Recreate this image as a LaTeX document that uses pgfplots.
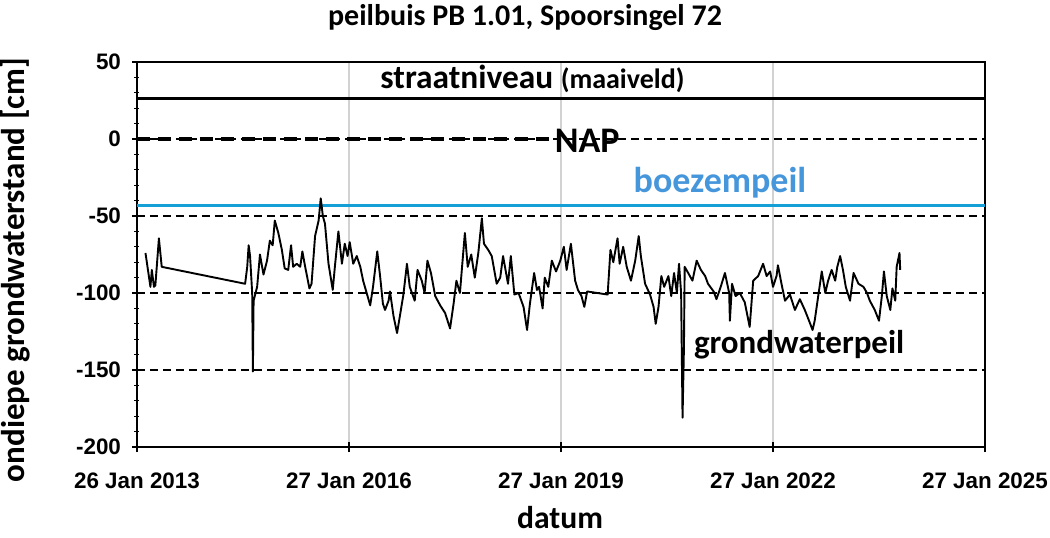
\documentclass[border=0pt]{standalone}
\usepackage{fontspec}
\usepackage{pgfplots}
\pgfplotsset{compat=1.18}
\setmainfont{Carlito}
\newfontfamily\tickfont{Liberation Sans}
\definecolor{boezem}{RGB}{20,160,215}
\definecolor{boezemtxt}{RGB}{70,150,220}
\definecolor{gridgray}{RGB}{210,210,210}

\begin{document}
\begin{tikzpicture}
\path[use as bounding box] (-68.5pt,-45pt) rectangle (456.5pt,223.5pt);
\begin{axis}[
  at={(0,0)}, anchor=south west,
  scale only axis, width=424pt, height=192.5pt,
  xmin=2013.07, xmax=2025.07, ymin=-200, ymax=50,
  xtick={2013.07,2016.07,2019.07,2022.07,2025.07},
  xticklabels={26 Jan 2013,27 Jan 2016,27 Jan 2019,27 Jan 2022,27 Jan 2025},
  ytick={-200,-150,-100,-50,0,50},
  minor y tick num=4,
  xtick pos=bottom, ytick pos=left,
  major tick length=5pt, minor tick length=2.5pt,
  tick align=center,
  tick style={black, line width=0.6pt},
  axis line style={black, line width=0.8pt},
  ymajorgrids=true,
  y grid style={black, line width=0.7pt, dash pattern=on 4pt off 2.5pt},
  xmajorgrids=true,
  x grid style={gridgray, line width=0.6pt},
  tick label style={font=\tickfont\bfseries\fontsize{11.2}{13}\selectfont},
  /pgf/number format/assume math mode=true,
  xticklabel style={yshift=-7pt},
  yticklabel style={xshift=-2pt},
]
% straatniveau (maaiveld)
\addplot[black, line width=1.5pt] coordinates {(2013.07,26) (2025.07,26)};
% NAP
\addplot[black, line width=1.8pt, dash pattern=on 6.5pt off 4pt] coordinates {(2013.07,0) (2018.95,0)};
% boezempeil
\addplot[boezem, line width=1.5pt] coordinates {(2013.07,-43) (2025.07,-43)};
% grondwaterpeil
\addplot[black, line width=0.95pt, line join=round] coordinates {
(2013.19,-74) (2013.26,-96) (2013.28,-85) (2013.31,-96) (2013.33,-95) (2013.38,-64.5) (2013.42,-83)
(2014.60,-94) (2014.63,-83) (2014.65,-69) (2014.67,-76) (2014.70,-100) (2014.71,-151) (2014.72,-105)
(2014.77,-96) (2014.81,-75) (2014.86,-88) (2014.91,-79) (2014.95,-66) (2014.99,-69) (2015.02,-53)
(2015.07,-61) (2015.12,-72) (2015.16,-84) (2015.21,-85) (2015.25,-69) (2015.28,-83) (2015.33,-81)
(2015.38,-83) (2015.41,-73) (2015.45,-83) (2015.51,-97) (2015.54,-94) (2015.59,-63) (2015.64,-53)
(2015.67,-38.5) (2015.70,-50) (2015.73,-55) (2015.78,-81) (2015.84,-98) (2015.87,-83) (2015.92,-60)
(2015.97,-81) (2016.01,-68) (2016.05,-76) (2016.08,-67) (2016.13,-81) (2016.18,-76) (2016.23,-83)
(2016.27,-92) (2016.32,-100) (2016.37,-108) (2016.41,-96) (2016.47,-73) (2016.51,-89) (2016.55,-107)
(2016.58,-111) (2016.63,-105) (2016.65,-99) (2016.70,-115) (2016.75,-126) (2016.79,-115) (2016.84,-101)
(2016.89,-81) (2016.93,-96) (2017.00,-105) (2017.04,-85) (2017.10,-92) (2017.14,-100) (2017.18,-79)
(2017.23,-87) (2017.29,-102) (2017.36,-108) (2017.43,-113) (2017.50,-123) (2017.55,-107) (2017.59,-92)
(2017.64,-100) (2017.67,-83) (2017.71,-61) (2017.75,-83) (2017.80,-75) (2017.85,-90) (2017.90,-74)
(2017.95,-51.5) (2017.98,-68) (2018.04,-72) (2018.09,-76) (2018.16,-94) (2018.21,-90) (2018.25,-76)
(2018.32,-94) (2018.36,-76) (2018.41,-101) (2018.47,-100) (2018.54,-109) (2018.59,-124) (2018.63,-107)
(2018.69,-87) (2018.73,-98) (2018.76,-96) (2018.81,-110) (2018.84,-90) (2018.89,-96) (2018.94,-79)
(2019.00,-86) (2019.06,-79) (2019.11,-70) (2019.15,-85) (2019.21,-68) (2019.27,-92) (2019.31,-98)
(2019.36,-102) (2019.40,-109) (2019.44,-99) (2019.73,-101) (2019.77,-72) (2019.81,-80) (2019.87,-64.5)
(2019.90,-81) (2019.95,-70) (2020.00,-83) (2020.06,-92) (2020.12,-79) (2020.17,-63) (2020.20,-76)
(2020.26,-94) (2020.33,-101) (2020.38,-109) (2020.41,-120) (2020.45,-109) (2020.49,-89) (2020.53,-96)
(2020.59,-89) (2020.63,-102) (2020.67,-87) (2020.71,-100) (2020.74,-81) (2020.77,-100) (2020.78,-141)
(2020.79,-181) (2020.81,-135) (2020.82,-83) (2020.87,-87) (2020.93,-92) (2020.99,-79) (2021.05,-85)
(2021.11,-89) (2021.15,-94) (2021.23,-99) (2021.27,-104) (2021.33,-96) (2021.39,-87) (2021.45,-100)
(2021.46,-118) (2021.49,-94) (2021.54,-102) (2021.60,-100) (2021.67,-106) (2021.74,-122) (2021.79,-92)
(2021.86,-89) (2021.93,-81) (2021.98,-89) (2022.03,-86) (2022.07,-96) (2022.12,-89) (2022.14,-82)
(2022.19,-94) (2022.24,-105) (2022.31,-101) (2022.38,-111) (2022.45,-104) (2022.52,-111) (2022.58,-118)
(2022.63,-124) (2022.66,-118) (2022.71,-102) (2022.76,-86) (2022.81,-100) (2022.85,-92) (2022.90,-85)
(2022.95,-92) (2022.98,-83) (2023.02,-76) (2023.06,-85) (2023.10,-96) (2023.16,-105) (2023.21,-87)
(2023.28,-94) (2023.35,-96) (2023.40,-100) (2023.44,-105) (2023.51,-111) (2023.57,-118) (2023.61,-102)
(2023.64,-86) (2023.68,-102) (2023.73,-111) (2023.76,-97) (2023.80,-105) (2023.82,-83) (2023.86,-74)
(2023.87,-85)
};
\node[anchor=base west, inner sep=0pt, font=\bfseries] at (axis cs:2016.51,32.5)
  {\fontsize{16.7}{20}\selectfont straatniveau\ \fontsize{14}{17}\selectfont(maaiveld)};
\node[inner sep=0pt, font=\bfseries\fontsize{18}{21}\selectfont] at (axis cs:2019.44,-1) {NAP};
\node[inner sep=0pt, text=boezemtxt, font=\bfseries\fontsize{18}{21}\selectfont] at (axis cs:2021.32,-28.6) {boezempeil};
\node[inner sep=0pt, font=\bfseries\fontsize{16.5}{20}\selectfont] at (axis cs:2022.44,-133.8) {grondwaterpeil};
\end{axis}
\node[font=\bfseries\fontsize{15}{18}\selectfont] at (194pt,214.5pt) {peilbuis PB 1.01, Spoorsingel 72};
\node[rotate=90, font=\bfseries\fontsize{16.5}{20}\selectfont] at (-61pt,88.5pt) {ondiepe grondwaterstand [cm]};
\node[inner sep=1pt, font=\bfseries\fontsize{15.8}{19}\selectfont] at (211.5pt,-35.5pt) {datum};
\end{tikzpicture}
\end{document}
